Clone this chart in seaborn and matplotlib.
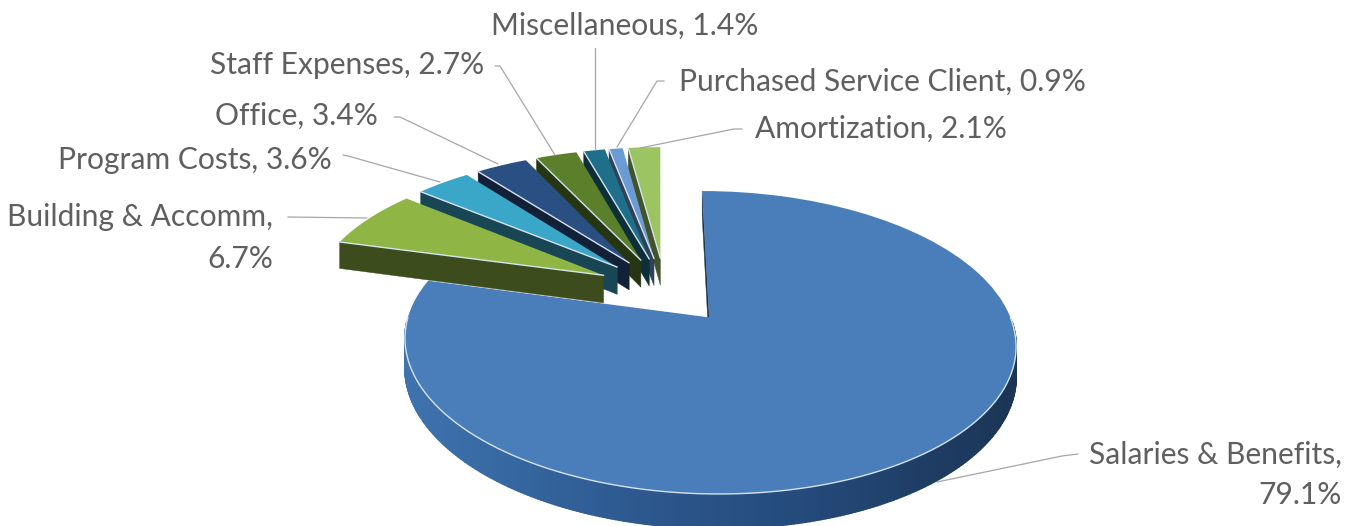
import numpy as np
import matplotlib
matplotlib.use("Agg")
import matplotlib.pyplot as plt
from matplotlib.transforms import Transform
import seaborn as sns

categories = ["Salaries & Benefits", "Building & Accomm", "Program Costs", "Office",
              "Staff Expenses", "Miscellaneous", "Purchased Service Client", "Amortization"]
shares = [79.1, 6.7, 3.6, 3.4, 2.7, 1.4, 0.9, 2.1]
colors = ["#4a7ebb", "#8fb544", "#3aa6c8", "#2a4f82", "#5b7f2a", "#1f6f8a", "#6a9bd4", "#9dc462"]
explode_all = 0.24

sns.set_theme(style="white")
plt.rcParams["font.family"] = ["Lato", "DejaVu Sans"]

W, H = 1359, 526
fig = plt.figure(figsize=(W / 100, H / 100), dpi=100, facecolor="white")
ax = fig.add_axes([0, 0, 1, 1])

# perspective view of the pie's plane, mapped to pixels
A, B, C, X0, RX, XV, DEPTH = 290.2, -91.75, 0.1608, 665.0, 292.0, 660.0, 28.0


def proj(u, v, z=0.0):
    u, v = np.asarray(u, float), np.asarray(v, float)
    w = 1 + C * v
    return (X0 + RX * u + XV * C * v) / w, (A + B * v + DEPTH * z) / w


class Persp(Transform):
    input_dims = output_dims = 2
    is_separable = False
    has_inverse = False

    def transform_non_affine(self, values):
        values = np.asarray(values, float)
        x, y = proj(values[:, 0], values[:, 1])
        return np.column_stack([x, y])


explode = [explode_all] * len(shares)
wedges, _ = ax.pie(shares, explode=explode, colors=colors, startangle=90,
                   counterclock=False, radius=1.0, wedgeprops={"linewidth": 0})
ax.set_aspect("auto")
ax.set_xlim(0, W)
ax.set_ylim(H, 0)
ax.set_position([0, 0, 1, 1])
ax.axis("off")


def shade(c, f):
    return tuple(np.array(matplotlib.colors.to_rgb(c)) * f)


def arc_pts(w, a):
    a = np.deg2rad(a)
    return w.center[0] + w.r * np.cos(a), w.center[1] + w.r * np.sin(a)


def quad(p, q, color, zo, lw):
    xa, ya = proj(p[0], p[1], 0)
    xb, yb = proj(q[0], q[1], 0)
    xc, yc = proj(q[0], q[1], 1)
    xd, yd = proj(p[0], p[1], 1)
    ax.fill([xa, xb, xc, xd], [ya, yb, yc, yd], color=color, lw=lw, zorder=zo, clip_on=False,
            joinstyle="round")


side_stops = sns.blend_palette(["#3f73ae", "#2e5b92", "#24497a", "#1b3555"], 100)
order = [0, 7, 6, 5, 4, 3, 2, 1]
for rank, i in enumerate(order):
    w = wedges[i]
    base = 10 * (rank + 1)
    angles = np.linspace(w.theta1, w.theta2, max(8, int(abs(w.theta2 - w.theta1) * 1.5)))
    for a0, a1 in zip(angles[:-1], angles[1:]):
        # only the arc that faces the viewer has a visible side
        if np.sin(np.deg2rad((a0 + a1) / 2)) > -0.03:
            continue
        p, q = arc_pts(w, a0), arc_pts(w, a1)
        x_mid = proj(p[0], p[1])[0]
        t = np.clip((x_mid - 405) / 611, 0, 0.999)
        quad(p, q, side_stops[int(t * 100)], base, 1.2)
    center = w.center
    # the radial cut that faces the viewer
    quad(center, arc_pts(w, w.theta2), shade(colors[i], 0.42), base + 1, 0.3)
    w.set_transform(Persp() + ax.transData)
    w.set_zorder(base + 2)
    w.set_clip_on(False)
    # pale rim along the front edge of the top face
    if i == 0:
        front = np.linspace(180, 360, 200) - 360
        ex, ey = arc_pts(w, front)
    else:
        ex, ey = zip(center, arc_pts(w, w.theta2))
    px, py = proj(ex, ey)
    ax.plot(px, py, color="#d5e3ee", lw=1.0, zorder=base + 3, solid_capstyle="round")

# labels
label_color = "#5f5f5f"
font_pt = 21.6
labels = [
    ("Salaries & Benefits,", 1342, 455),
    ("79.1%", 1342, 495),
    ("Building & Accomm,", 273, 217),
    ("6.7%", 273, 259),
    ("Program Costs, 3.6%", 332, 160),
    ("Office, 3.4%", 378, 116),
    ("Staff Expenses, 2.7%", 484, 65),
    ("Miscellaneous, 1.4%", 758, 26),
    ("Purchased Service Client, 0.9%", 1086, 82),
    ("Amortization, 2.1%", 1007, 129),
]
for text, x, y in labels:
    ax.text(x, y, text, ha="right", va="center", fontsize=font_pt, color=label_color, zorder=200)

leaders = [
    ([1078, 1062, 937], [454, 456, 482]),
    ([288, 367], [217, 218]),
    ([343, 348, 440], [155, 156, 182]),
    ([394, 400, 498], [117, 117, 164]),
    ([495, 500, 555], [66, 66, 155]),
    ([595, 595], [48, 150]),
    ([664, 657, 617], [81, 81, 147]),
    ([742, 734, 640], [129, 129, 148]),
]
for xs, ys in leaders:
    ax.plot(xs, ys, color="#a6a6a6", lw=0.9, zorder=150, clip_on=False)

fig.savefig("out.png", dpi=100, facecolor="white")
